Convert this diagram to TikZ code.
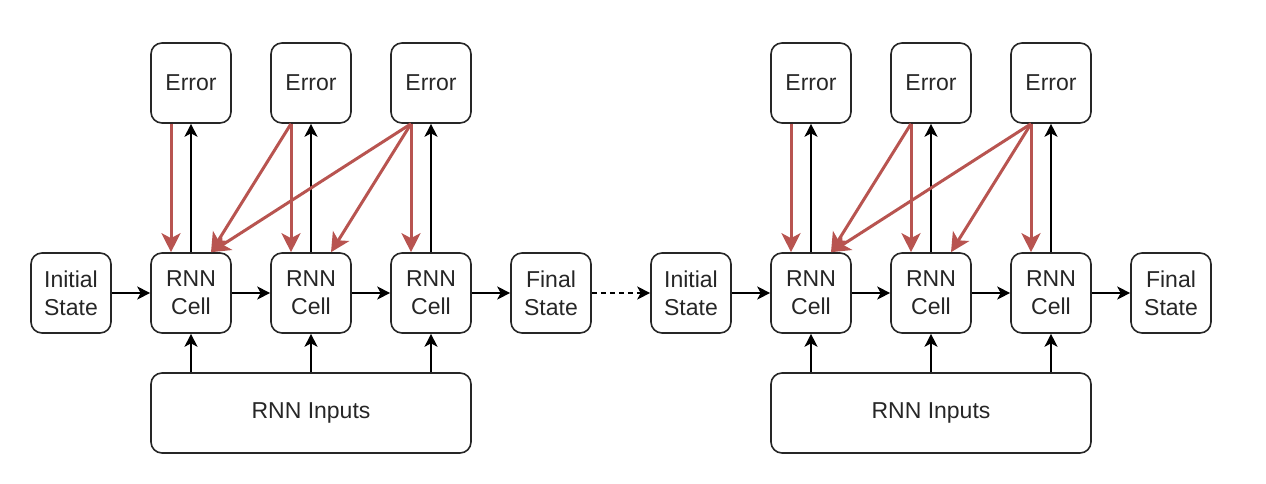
\documentclass[tikz,border=0pt]{standalone}
\usepackage{fontspec}
\setmainfont{Liberation Sans}
\usetikzlibrary{arrows.meta}
\definecolor{errred}{HTML}{B85450}
\definecolor{boxline}{HTML}{262626}
\begin{document}
\begin{tikzpicture}[x=1pt,y=-1pt,
  box/.style={draw=boxline, line width=1.6pt, rounded corners=11pt, minimum width=80pt, minimum height=80pt, inner sep=0pt, align=center, font=\fontsize{23}{28}\selectfont, text=black!85},
  blk/.style={draw=black, line width=1.6pt, -{Stealth[length=13pt,width=13pt,inset=3.5pt]}},
  redarr/.style={draw=errred, line width=3pt, -{Stealth[length=19pt,width=19pt,inset=5pt]}},
]
\useasboundingbox (0,0) rectangle (1266,484);
\foreach \h/\dx in {a/0,b/620}{
  \node[box] (is\h) at (71+\dx,293) {Initial\\State};
  \node[box] (c1\h) at (191+\dx,293) {RNN\\Cell};
  \node[box] (c2\h) at (311+\dx,293) {RNN\\Cell};
  \node[box] (c3\h) at (431+\dx,293) {RNN\\Cell};
  \node[box] (fs\h) at (551+\dx,293) {Final\\State};
  \node[box] (e1\h) at (191+\dx,83) {Error};
  \node[box] (e2\h) at (311+\dx,83) {Error};
  \node[box] (e3\h) at (431+\dx,83) {Error};
  \node[box, minimum width=320pt] (in\h) at (311+\dx,413) {RNN Inputs};
  \draw[blk] (is\h) -- (c1\h);
  \draw[blk] (c1\h) -- (c2\h);
  \draw[blk] (c2\h) -- (c3\h);
  \draw[blk] (c3\h) -- (fs\h);
  \foreach \k in {1,2,3}{
    \draw[blk] (c\k\h.north) -- (e\k\h.south);
    \draw[blk] (c\k\h.south |- in\h.north) -- (c\k\h.south);
    \draw[redarr] ([xshift=-20pt]e\k\h.south) -- ([xshift=-20pt]c\k\h.north);
  }
  \draw[redarr] ([xshift=-20pt]e2\h.south) -- ([xshift=20pt]c1\h.north);
  \draw[redarr] ([xshift=-20pt]e3\h.south) -- ([xshift=20pt]c2\h.north);
  \draw[redarr] ([xshift=-20pt]e3\h.south) -- ([xshift=20pt]c1\h.north);
}
\draw[blk, dash pattern=on 5pt off 4pt] (fsa) -- (isb);
\end{tikzpicture}
\end{document}
